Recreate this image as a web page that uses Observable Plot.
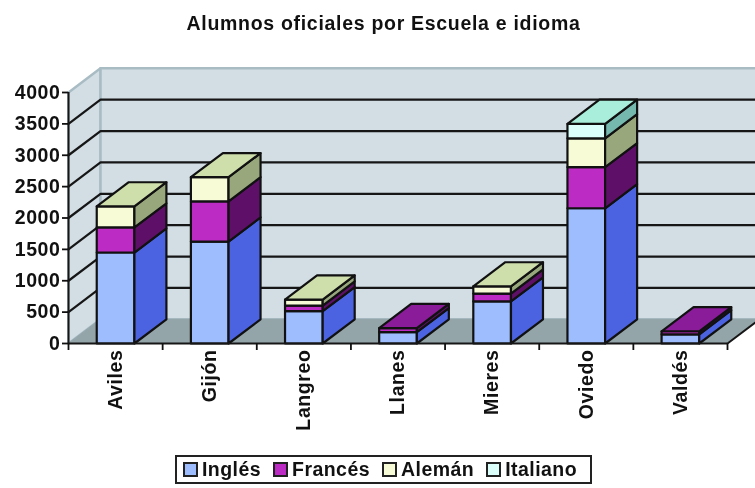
<!DOCTYPE html>
<html lang="es">
<head>
<meta charset="utf-8">
<script src="https://cdn.jsdelivr.net/npm/d3@7"></script>
<script src="https://cdn.jsdelivr.net/npm/@observablehq/plot@0.6"></script>
<style>
html,body{margin:0;padding:0;background:#fff;overflow:hidden}
body{width:755px;height:488px;font-family:"Liberation Sans",Arial,sans-serif;font-weight:bold;color:#111}
#title{height:60px;line-height:46px;text-align:center;font-size:19.5px;letter-spacing:.7px;padding-left:12px;box-sizing:border-box;filter:blur(.6px)}
#chart{height:380px;filter:blur(.6px)}
#chart svg{display:block}
#legend{position:absolute;left:175px;top:455px;width:417px;height:29px;box-sizing:border-box;border:2px solid #222;display:flex;align-items:center;padding-left:6px;font-size:19.5px;letter-spacing:.45px;filter:blur(.5px)}
.it{display:flex;align-items:center;margin-right:12px}
.sw{width:11px;height:11px;border:2px solid #222;margin-right:4px}
</style>
</head>
<body>
<div id="title">Alumnos oficiales por Escuela e idioma</div>
<div id="chart"></div>
<div id="legend"></div>
<script>
const categories = ["Aviles", "Gijón", "Langreo", "Llanes", "Mieres", "Oviedo", "Valdés"];
const seriesNames = ["Inglés", "Francés", "Alemán", "Italiano"];
const ingles   = [1450, 1625, 515, 180, 670, 2155, 145];
const frances  = [400, 640, 90, 65, 125, 655, 50];
const aleman   = [335, 385, 95, 0, 115, 460, 0];
const italiano = [0, 0, 0, 0, 0, 230, 0];
const yTicks = [0, 500, 1000, 1500, 2000, 2500, 3000, 3500, 4000];
const frontColors = ["#9DBDFF", "#BC2CC4", "#F7FBD6", "#DBFFFA"];
const sideColors  = ["#4B63E0", "#5E1069", "#98A87C", "#75B8AE"];
const topColors   = ["#7F9AD8", "#8A1C9A", "#CFDFAC", "#A8EEDA"];

const series = [ingles, frances, aleman, italiano];
const depthX = 0.34, depthY = 385, barStart = 0.3, barEnd = 0.7;
const yMax = yTicks[yTicks.length - 1], nCat = categories.length;

const polys = [];
function poly(pts, fill, stroke) {
  const id = polys.length ? polys[polys.length - 1].id + 1 : 0;
  for (const [x, y] of pts) polys.push({id, x, y, fill, stroke});
}
categories.forEach((c, i) => {
  let base = 0, lastTop = -1;
  const x0 = i + barStart, x1 = i + barEnd;
  series.forEach((s, k) => {
    if (!s[i]) return;
    const top = base + s[i];
    poly([[x0, base], [x1, base], [x1, top], [x0, top]], frontColors[k]);
    poly([[x1, base], [x1 + depthX, base + depthY], [x1 + depthX, top + depthY], [x1, top]], sideColors[k]);
    base = top; lastTop = k;
  });
  poly([[x0, base], [x1, base], [x1 + depthX, base + depthY], [x0 + depthX, base + depthY]], topColors[lastTop]);
});

const wall = [
  {id: 0, x: 0, y: 0}, {id: 0, x: depthX, y: depthY}, {id: 0, x: depthX, y: yMax + depthY}, {id: 0, x: 0, y: yMax},
  {id: 1, x: depthX, y: depthY}, {id: 1, x: nCat + depthX, y: depthY}, {id: 1, x: nCat + depthX, y: yMax + depthY}, {id: 1, x: depthX, y: yMax + depthY}
];
const floor = [
  {id: 2, x: 0, y: 0}, {id: 2, x: nCat, y: 0}, {id: 2, x: nCat + depthX, y: depthY}, {id: 2, x: depthX, y: depthY}
];
const inner = yTicks.slice(1, -1);
const grid = inner.flatMap(v => [
  {v, x: 0, y: v}, {v, x: depthX, y: v + depthY}, {v, x: nCat + depthX, y: v + depthY}
]);
const floorEdge = [{x: nCat, y: 0}, {x: nCat + depthX, y: depthY}];

const plot = Plot.plot({
  width: 755, height: 380,
  marginLeft: 68, marginRight: 28, marginTop: 32, marginBottom: 97,
  x: {type: "linear", domain: [0, nCat]},
  y: {domain: [0, yMax]},
  style: {fontFamily: "'Liberation Sans', Arial, sans-serif", fontWeight: "bold", fontSize: "19.5px", letterSpacing: "0.6px", color: "#111", overflow: "hidden", background: "transparent"},
  marks: [
    Plot.line(wall, {x: "x", y: "y", z: "id", fill: "#D2DEE4", stroke: "#A9BCC4", strokeWidth: 2.5, curve: "linear-closed"}),
    Plot.line(floor, {x: "x", y: "y", z: "id", fill: "#94A5AA", stroke: "#94A5AA", strokeWidth: 1, curve: "linear-closed"}),
    Plot.line(grid, {x: "x", y: "y", z: "v", stroke: "#161616", strokeWidth: 2.2, curve: "linear"}),
    Plot.line(floorEdge, {x: "x", y: "y", stroke: "#161616", strokeWidth: 2}),
    Plot.line(polys, {x: "x", y: "y", z: "id", fill: "fill", stroke: "#111", strokeWidth: 2.2, strokeLinejoin: "round", curve: "linear-closed"}),
    Plot.ruleX([0], {stroke: "#161616", strokeWidth: 2}),
    Plot.ruleY([0], {stroke: "#161616", strokeWidth: 2}),
    Plot.axisY({ticks: yTicks, tickSize: 6, tickPadding: 2, tickFormat: d => String(d), label: null, strokeWidth: 1.8}),
    Plot.axisX({ticks: d3.range(0, nCat + 1), tickSize: 7, tickFormat: () => "", label: null, strokeWidth: 1.8}),
    Plot.axisX({ticks: categories.map((c, i) => i + 0.5), tickSize: 0, tickPadding: 6, tickRotate: -90, tickFormat: d => categories[d - 0.5], label: null})
  ]
});
document.getElementById("chart").append(plot);

const legend = document.getElementById("legend");
seriesNames.forEach((n, k) => {
  const it = document.createElement("div"); it.className = "it";
  const sw = document.createElement("span"); sw.className = "sw"; sw.style.background = frontColors[k];
  const t = document.createElement("span"); t.textContent = n;
  it.append(sw, t); legend.append(it);
});
</script>
</body>
</html>
